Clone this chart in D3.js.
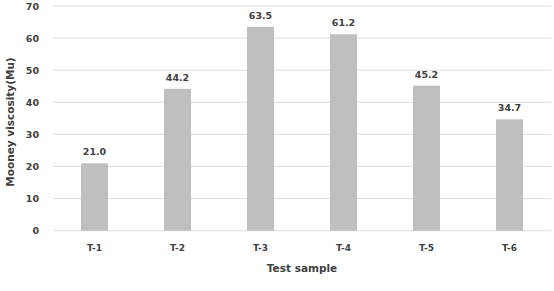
<!DOCTYPE html>
<html><head><meta charset="utf-8">
<script src="https://cdn.jsdelivr.net/npm/d3@7"></script>
<style>body{margin:0;background:#fff}text{font-family:"DejaVu Sans",sans-serif;font-weight:bold;fill:#3f3f3f}</style>
</head><body><svg id="c" width="554" height="291"></svg>
<script>
const categories = ["T-1","T-2","T-3","T-4","T-5","T-6"];
const values = [21.0,44.2,63.5,61.2,45.2,34.7];
const yTicks = [0,10,20,30,40,50,60,70];
const svg = d3.select("#c");
const x = d3.scaleBand().domain(categories).range([53,551]).paddingInner(0.675).paddingOuter(0.3375);
const y = d3.scaleLinear().domain([0,70]).range([230.7,6]);
svg.append("g").selectAll("line").data(yTicks).join("line")
  .attr("x1",53).attr("x2",551).attr("y1",d=>y(d)).attr("y2",d=>y(d))
  .attr("stroke","#dcdcdc").attr("stroke-width",1);
svg.append("g").selectAll("text").data(yTicks).join("text")
  .attr("x",39).attr("y",d=>y(d)+3.5).attr("text-anchor","end").attr("font-size",9.5).text(d=>d);
svg.append("g").selectAll("rect").data(values).join("rect")
  .attr("x",(d,i)=>x(categories[i])).attr("width",x.bandwidth())
  .attr("y",d=>y(d)).attr("height",d=>y(0)-y(d)).attr("fill","#bfbfbf");
svg.append("g").selectAll("text").data(values).join("text")
  .attr("x",(d,i)=>x(categories[i])+x.bandwidth()/2).attr("y",d=>y(d)-8)
  .attr("text-anchor","middle").attr("font-size",9.5).text(d=>d.toFixed(1));
svg.append("g").selectAll("text").data(categories).join("text")
  .attr("x",d=>x(d)+x.bandwidth()/2).attr("y",251).attr("text-anchor","middle").attr("font-size",9).text(d=>d);
svg.append("text").attr("x",302).attr("y",272).attr("text-anchor","middle").attr("font-size",10.5).text("Test sample");
svg.append("text").attr("transform","translate(14,122) rotate(-90)").attr("text-anchor","middle").attr("font-size",10.5).text("Mooney viscosity(Mu)");
</script></body></html>
